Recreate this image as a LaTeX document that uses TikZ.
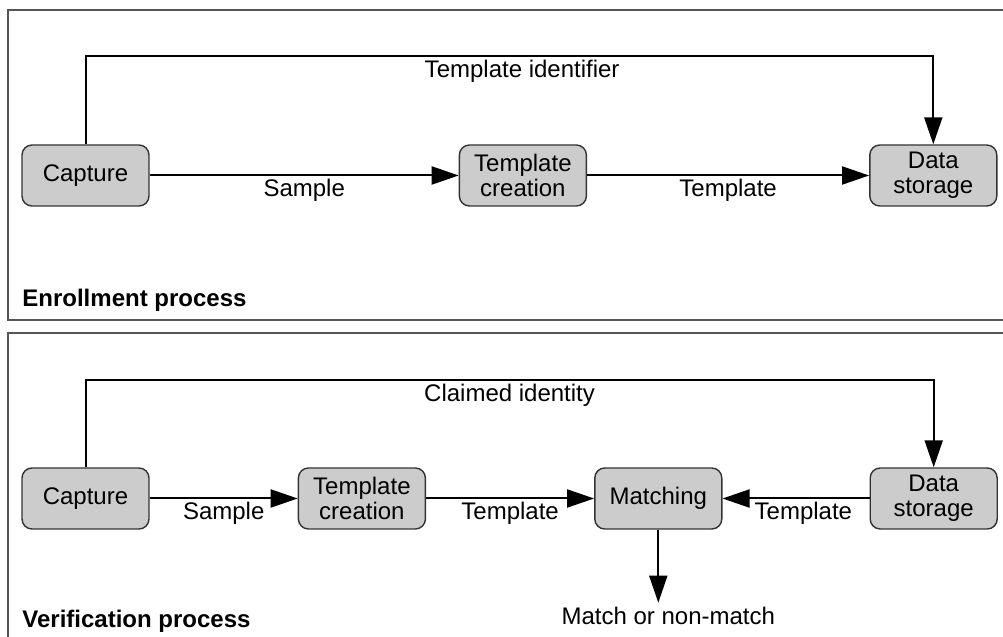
\documentclass[tikz,border=0pt]{standalone}
\usepackage{fontspec}
\setmainfont{Liberation Sans}
\usepackage{tikz}
\usetikzlibrary{shapes,arrows.meta,positioning,calc}
\definecolor{boxfill}{HTML}{CCCCCC}
\definecolor{boxline}{HTML}{333333}
\definecolor{frameline}{HTML}{555555}

\begin{document}
\begin{tikzpicture}[align=center,
        font=\fontsize{12}{12.5}\selectfont,
        block/.style={draw=boxline, line width=0.7pt, fill=boxfill, rounded corners=5pt,
            minimum width=63.5pt, minimum height=30.5pt, inner sep=1pt},
        flow/.style={line width=1pt, -{Triangle[length=13.5pt,width=9pt]}},
        frame/.style={draw=frameline, line width=0.6pt},
        title/.style={font=\fontsize{12}{13}\selectfont\bfseries, anchor=west, inner sep=0pt},
        lbl/.style={inner sep=1.5pt}]
        \useasboundingbox (0,0) rectangle (501.5pt,318.5pt);

        % Frames
        \draw[frame] (4pt,313.5pt) rectangle (520pt,158.5pt);
        \draw[frame] (4pt,152pt) rectangle (520pt,-20pt);
        \node[title] (enroll) at (11pt,168.5pt) {Enrollment process};
        \node[title] (verify) at (11pt,8pt) {Verification process};

        % Place nodes (enrollment)
        \node [block] (capE) at (42.75pt,230.75pt) {Capture};
        \node [block, right=154.5pt of capE] (tmplE) {Template\\creation};
        \node [block, right=141pt of tmplE] (storE) {Data\\storage};
        \coordinate (loopE) at ($(capE.north)+(0,44pt)$);

        % Place nodes (verification)
        \node [block] (capV) at (42.75pt,69.25pt) {Capture};
        \node [block, right=74pt of capV] (tmplV) {Template\\creation};
        \node [block, right=84pt of tmplV] (match) {Matching};
        \node [block, right=73.5pt of match] (storV) {Data\\storage};
        \coordinate (loopV) at ($(capV.north)+(0,43.5pt)$);
        \coordinate (result) at ($(match.south)+(0,-36.5pt)$);

        % Draw edges (enrollment)
        \draw[flow] (capE) -- node[lbl, below] {Sample} (tmplE);
        \draw[flow] (tmplE) -- node[lbl, below] {Template} (storE);
        \draw[flow] (capE.north) -- (loopE)
            -- node[lbl, below, pos=0.515] {Template identifier} (loopE -| storE.north)
            -- (storE.north);

        % Draw edges (verification)
        \draw[flow] (capV) -- node[lbl, below] {Sample} (tmplV);
        \draw[flow] (tmplV) -- node[lbl, below] {Template} (match);
        \draw[flow] (storV) -- node[lbl, below, pos=0.45] {Template} (match);
        \draw[flow] (capV.north) -- (loopV)
            -- node[lbl, below, pos=0.5] {Claimed identity} (loopV -| storV.north)
            -- (storV.north);
        \draw[flow] (match) -- (result) node[lbl, below, xshift=5pt] (outcome) {Match or non-match};

    \end{tikzpicture}
\end{document}
